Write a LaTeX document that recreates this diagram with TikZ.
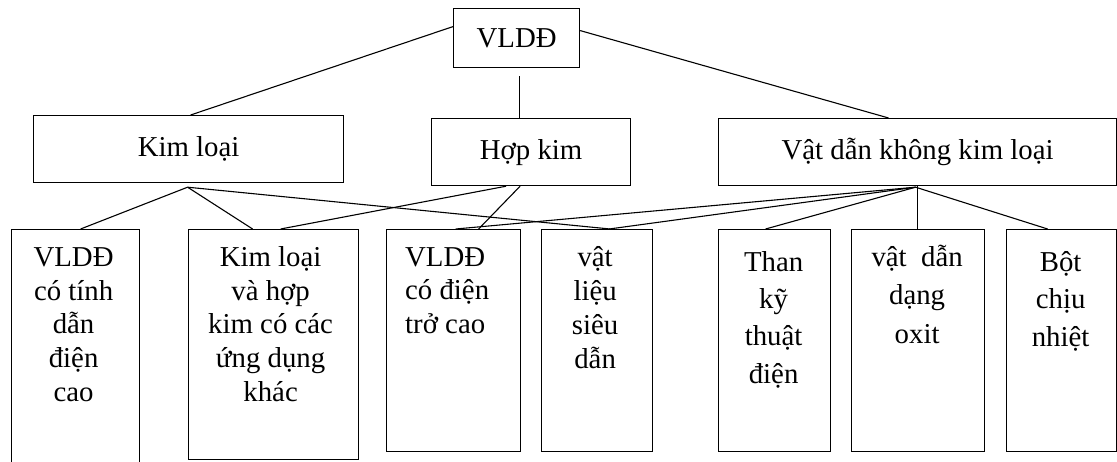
\documentclass[tikz,border=0pt]{standalone}
\usepackage{fontspec}
\setmainfont{Liberation Serif}
\usetikzlibrary{calc}
\newcommand\txtfont[1]{\fontsize{28.8}{#1}\selectfont}
\tikzset{
  frame/.style={draw, line width=1.2pt, inner sep=0pt, anchor=north west, font=\txtfont{34}},
  lbl/.style={inner sep=0pt, align=center, anchor=north},
  conn/.style={line width=1.1pt},
}
\begin{document}
\begin{tikzpicture}[x=1pt,y=-1pt]
\useasboundingbox (0,0) rectangle (1117,462);
\fill[white] (0,0) rectangle (1117,462);
\clip (0,0) rectangle (1117,462);
% top levels
\node[frame, minimum width=126pt, minimum height=59pt] (top) at (453,8) {VLDĐ};
\node[frame, minimum width=310pt, minimum height=67pt] (kl) at (33,115) {Kim loại};
\node[frame, minimum width=199pt, minimum height=67pt] (hk) at (431,118) {Hợp kim};
\node[frame, minimum width=398pt, minimum height=67pt] (vd) at (718,118) {Vật dẫn không kim loại};
% bottom boxes
\node[frame, minimum width=128pt, minimum height=245pt] (b1) at (11,229) {};
\node[frame, minimum width=170pt, minimum height=230pt] (b2) at (188,229) {};
\node[frame, minimum width=134pt, minimum height=222pt] (b3) at (386,229) {};
\node[frame, minimum width=111pt, minimum height=222pt] (b4) at (541,229) {};
\node[frame, minimum width=112pt, minimum height=222pt] (b5) at (718,229) {};
\node[frame, minimum width=133pt, minimum height=222pt] (b6) at (851,229) {};
\node[frame, minimum width=110pt, minimum height=222pt] (b7) at (1006,229) {};
% texts
\node[lbl, font=\txtfont{33.8}] (t1) at ($(b1.north)+(-2,7)$) {\rule{0pt}{30pt}VLDĐ\\có tính\\dẫn\\điện\\cao};
\node[lbl, font=\txtfont{33.8}] (t2) at ($(b2.north)+(-3,7)$) {\rule{0pt}{30pt}Kim loại\\và hợp\\kim có các\\ứng dụng\\khác};
\node[lbl, align=left, anchor=north west, font=\txtfont{33.5}] (t3) at ($(b3.north west)+(19,7)$) {\rule{0pt}{30pt}VLDĐ\\có điện\\trở cao};
\node[lbl, font=\txtfont{34}] (t4) at ($(b4.north)+(-2,7)$) {\rule{0pt}{30pt}vật\\liệu\\siêu\\dẫn};
\node[lbl, font=\txtfont{37.3}] (t5) at ($(b5.north)+(-1,12)$) {\rule{0pt}{30pt}Than\\kỹ\\thuật\\điện};
\node[lbl, font=\txtfont{38.5}] (t6) at ($(b6.north)+(-1,7)$) {\rule{0pt}{30pt}vật\ \ dẫn\\dạng\\oxit};
\node[lbl, font=\txtfont{37.5}] (t7) at ($(b7.north)+(-1,12)$) {\rule{0pt}{30pt}Bột\\chịu\\nhiệt};
% connectors from the top box
\coordinate (tv) at ($(top.south)+(3,8)$);
\draw[conn] ($(top.west)+(0,-11.5)$) -- ($(kl.north)+(2,0)$);
\draw[conn] (tv) -- (tv |- hk.north);
\draw[conn] ($(top.east)+(0,-7.5)$) -- ($(vd.north)+(-29,0)$);
% from Kim loai
\coordinate (kls) at ($(kl.south)+(-1,4)$);
\draw[conn] (kls) -- ($(b1.north)+(5,0)$);
\draw[conn] (kls) -- ($(b2.north)+(-21,0)$);
\draw[conn] (kls) -- ($(b4.north)+(13,0)$);
% from Hop kim
\draw[conn] ($(hk.south)+(-25,0)$) -- ($(b2.north)+(7,0)$);
\draw[conn] ($(hk.south)+(-11,0)$) -- ($(b3.north)+(25,0)$);
% from Vat dan khong kim loai
\coordinate (vds) at ($(vd.south)+(-2,1)$);
\draw[conn] (vds) -- ($(b3.north)+(2,0)$);
\draw[conn] (vds) -- ($(b4.north)+(12,0)$);
\draw[conn] (vds) -- ($(b5.north)+(-9,0)$);
\draw[conn] (vd.south) -- (vd.south |- b6.north);
\draw[conn] (vds) -- ($(b7.north)+(-14,0)$);
\end{tikzpicture}
\end{document}
